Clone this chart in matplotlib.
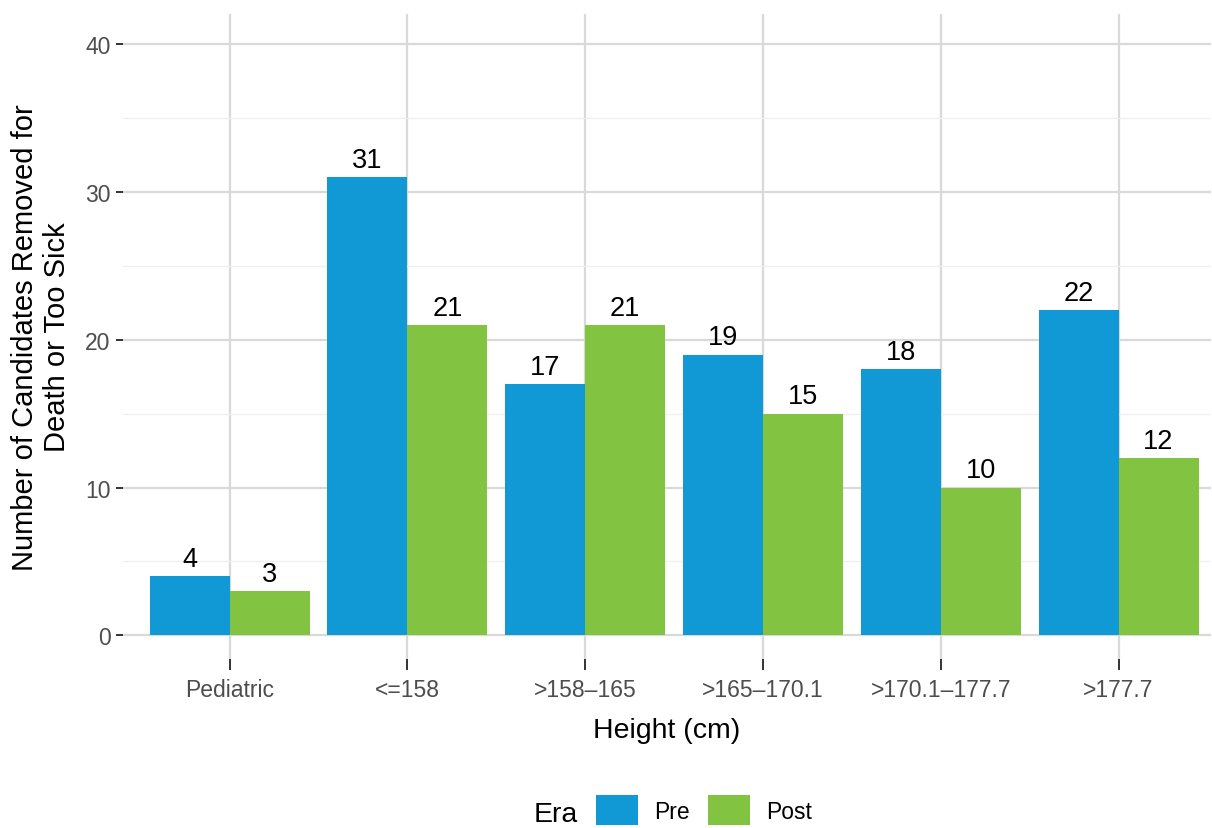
import numpy as np
import matplotlib.pyplot as plt
from matplotlib.patches import Patch
from matplotlib.ticker import MultipleLocator

plt.rcParams['font.family'] = ['Liberation Sans', 'DejaVu Sans']

categories = ['Pediatric', '<=158', '>158\u2013165', '>165\u2013170.1', '>170.1\u2013177.7', '>177.7']
pre = [4, 31, 17, 19, 18, 22]
post = [3, 21, 21, 15, 10, 12]
era_labels = ['Pre', 'Post']
colors = ['#1199D6', '#82C341']

fig = plt.figure(figsize=(12.12, 8.29), dpi=100)
ax = fig.add_axes([123 / 1212, 1 - 660 / 829, (1211 - 123) / 1212, (660 - 15) / 829])

x = np.arange(len(categories))
w = 0.45
b1 = ax.bar(x - w / 2, pre, width=w, color=colors[0], zorder=3)
b2 = ax.bar(x + w / 2, post, width=w, color=colors[1], zorder=3)
for bars, vals in ((b1, pre), (b2, post)):
    for r, v in zip(bars, vals):
        ax.text(r.get_x() + r.get_width() / 2, v + 0.3, str(v), ha='center', va='bottom',
                fontsize=19.5, color='black', zorder=4)

ax.set_xlim(-0.6, 5.52)
ax.set_ylim(-1.6, 42.05)
ax.set_xticks(x)
ax.set_xticklabels(categories)
ax.yaxis.set_major_locator(MultipleLocator(10))
ax.yaxis.set_minor_locator(MultipleLocator(5))
ax.grid(which='major', color='#D9D9D9', linewidth=1.6, zorder=0)
ax.grid(which='minor', axis='y', color='#EFEFEF', linewidth=0.9, zorder=0)
for s in ax.spines.values():
    s.set_visible(False)
ax.tick_params(axis='both', which='major', length=5, width=1.4, color='#333333',
               labelcolor='#4D4D4D', labelsize=16.5, pad=4)
ax.tick_params(axis='y', which='minor', length=0)
ax.tick_params(axis='x', length=8, pad=6)

ax.set_xlabel('Height (cm)', fontsize=20.5, labelpad=11)
ax.set_ylabel('Number of Candidates Removed for\nDeath or Too Sick', fontsize=21, labelpad=10)

handles = [Patch(facecolor=c, edgecolor='none') for c in colors]
leg = fig.legend(handles, era_labels, loc='center', bbox_to_anchor=(704 / 1212, 1 - 811 / 829),
                 ncol=2, frameon=False, fontsize=16.5, handlelength=1.85, handleheight=1.6,
                 handletextpad=0.72, columnspacing=0.76)
fig.text(556 / 1212, 1 - 815 / 829, 'Era', fontsize=20.5, ha='center', va='center')

fig.savefig('out.png', dpi=100)
